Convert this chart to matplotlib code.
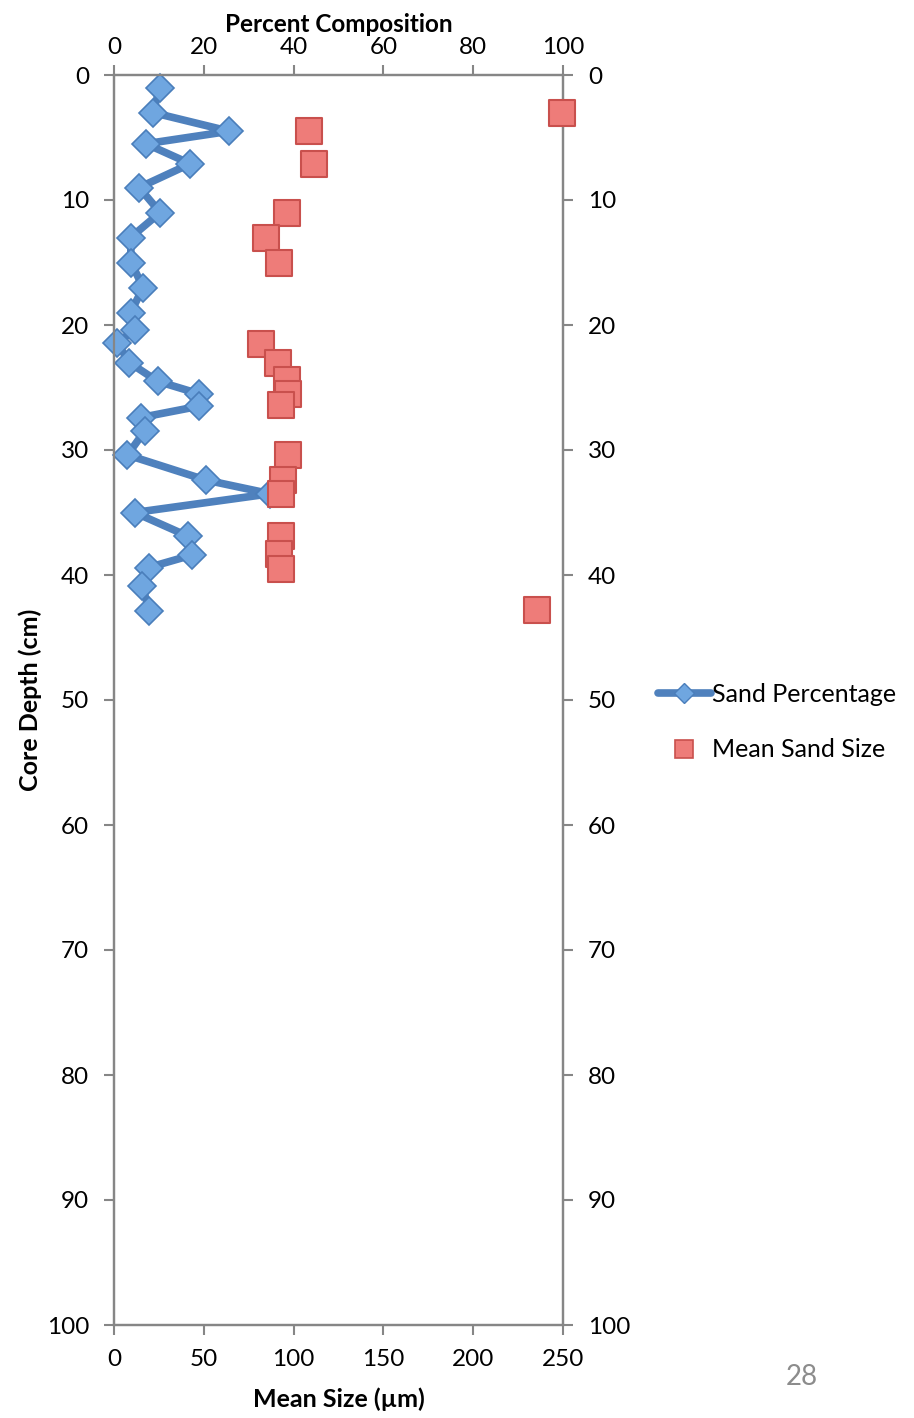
import numpy as np
import matplotlib
matplotlib.use("Agg")
import matplotlib.pyplot as plt
from matplotlib.lines import Line2D

plt.rcParams['font.family'] = ['Lato', 'DejaVu Sans']

# sand percentage vs depth
pct_depth = [1.0, 3.0, 4.5, 5.5, 7.1, 9.0, 11.0, 13.0, 15.0, 17.0, 19.0, 20.4, 21.4,
             23.0, 24.5, 25.5, 26.5, 27.4, 28.5, 30.4, 32.4, 33.5, 35.0, 36.9, 38.4,
             39.4, 40.9, 42.9]
sand_pct = [10.3, 8.6, 25.7, 7.1, 17.0, 5.6, 10.3, 3.7, 3.8, 6.5, 3.7, 4.7, 0.7,
            3.4, 9.7, 18.9, 18.9, 6.0, 6.8, 3.0, 20.4, 34.8, 4.6, 16.5, 17.4,
            7.7, 6.3, 7.9]

# mean sand size vs depth
size_depth = [3.0, 4.5, 7.1, 11.0, 13.0, 15.0, 21.5, 23.0, 24.4, 25.5, 26.4,
              30.4, 32.4, 33.5, 36.9, 38.3, 39.5, 42.8]
mean_size = [249.4, 108.4, 111.2, 96.2, 84.4, 91.7, 81.8, 91.1, 96.2, 97.1, 92.8,
             97.1, 93.9, 92.8, 92.8, 92.1, 93.0, 235.7]

pct_ticks = [0, 20, 40, 60, 80, 100]
size_ticks = [0, 50, 100, 150, 200, 250]
depth_ticks = list(range(0, 101, 10))

gray = '#868686'
blue_line = '#4F81BD'
blue_fill = '#6FA6E0'
red_fill = '#EE7C79'
red_edge = '#C9504D'

fig = plt.figure(figsize=(9.14, 14.18), dpi=100)
W, H = 914, 1418
ax = fig.add_axes([114 / W, 1 - 1325 / H, (563 - 114) / W, (1325 - 75) / H])
ax2 = ax.twiny()

# percent axis (top)
ax.plot(sand_pct, pct_depth, color=blue_line, lw=5.5, marker='D', ms=14,
        mfc=blue_fill, mec='#4A7EBB', mew=1.2, solid_joinstyle='round',
        clip_on=False, zorder=3)
ax.set_xlim(0, 100)
ax.set_ylim(100, 0)
ax.xaxis.tick_top()
ax.xaxis.set_label_position('top')
ax.set_xticks(pct_ticks)
ax.set_yticks(depth_ticks)
ax.set_xlabel('Percent Composition', fontsize=17.5, fontweight='bold', labelpad=4)
ax.set_ylabel('Core Depth (cm)', fontsize=18, fontweight='bold', labelpad=3)
ax.tick_params(axis='y', which='both', left=True, right=True, labelleft=True,
               labelright=True)

# size axis (bottom), drawn above
ax2.scatter(mean_size, size_depth, marker='s', s=19 ** 2, c=red_fill,
            edgecolors=red_edge, linewidths=1.5, clip_on=False, zorder=4)
ax2.set_xlim(0, 250)
ax2.xaxis.tick_bottom()
ax2.xaxis.set_label_position('bottom')
ax2.set_xticks(size_ticks)
ax2.set_xlabel('Mean Size (\u00b5m)', fontsize=18, fontweight='bold', labelpad=13)

for a in (ax, ax2):
    for s in a.spines.values():
        s.set_color(gray)
        s.set_linewidth(1.6)
    a.tick_params(direction='out', length=7, width=1.5, color=gray,
                  labelsize=17.5, pad=5)
ax.tick_params(axis='y', pad=11)
ax2.tick_params(axis='x', pad=10)

handles = [
    Line2D([], [], color=blue_line, lw=5.5, marker='D', ms=10, mfc=blue_fill,
           mec='#4A7EBB', solid_capstyle='round'),
    Line2D([], [], ls='none', marker='s', ms=13, mfc=red_fill, mec=red_edge, mew=1.2),
]
fig.legend(handles, ['Sand Percentage', 'Mean Sand Size'], loc='center left',
           bbox_to_anchor=(648 / W, 1 - 722 / H), frameon=False, fontsize=18,
           handlelength=2.1, handletextpad=0.05, labelspacing=1.3, borderaxespad=0)

fig.text(802 / W, 1 - 1377 / H, '28', fontsize=20, color='#8C8C8C',
         ha='center', va='center')

fig.savefig('out.png', dpi=100)
